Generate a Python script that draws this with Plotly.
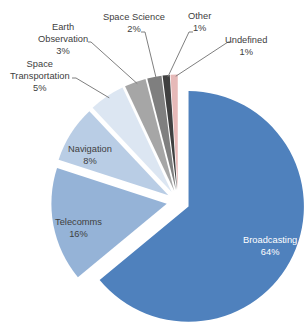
import math
import plotly.graph_objects as go

# ---- data ----
categories = ["Broadcasting", "Telecomms", "Navigation", "Space Transportation",
              "Earth Observation", "Space Science", "Other", "Undefined"]
values = [64, 16, 8, 5, 3, 2, 1, 1]
label_lines = ["Broadcasting", "Telecomms", "Navigation", "Space<br>Transportation",
               "Earth<br>Observation", "Space Science", "Other", "Undefined"]

# ---- style ----
colors = ["#4F81BD", "#95B3D7", "#B9CDE5", "#DCE6F2",
          "#A6A6A6", "#7F7F7F", "#404040", "#E6B9B8"]
W, H = 305, 330
PULL = 0.10
CX, CY = 179.7, 201.5           # pie centre (px)
half = H - CY                   # half box height with domain y0 = 0
dom_y = [0.0, 2 * half / H]
dom_x = [(CX - half) / W, min(1.0, (CX + half) / W)]
R = min(half, (dom_x[1] * W - CX)) / (1 + PULL)

TEXT = "#404040"
FONT = "Liberation Sans"
FS = 9.3

fig = go.Figure(go.Pie(
    labels=categories, values=values, sort=False, direction="clockwise",
    rotation=0, pull=[PULL] * len(values),
    marker=dict(colors=colors, line=dict(width=0)),
    textinfo="none", hoverinfo="label+percent", showlegend=False,
    domain=dict(x=dom_x, y=dom_y),
))

total = sum(values)
def arc_point(i):
    """px point on the outer arc at the mid-angle of slice i, with pull offset"""
    start = sum(values[:i]) / total
    mid = (start + values[i] / total / 2) * 2 * math.pi
    dx, dy = math.sin(mid), -math.cos(mid)
    return CX + (PULL + 1.0) * R * dx, CY + (PULL + 1.0) * R * dy

def paper(px, py):
    return px / W, 1 - py / H

# label centres (px)
label_pos = [(270, 245.5), (78, 227.5), (89.5, 155.3), (40.5, 76.2),
             (63, 39.5), (134, 23), (199, 21.5), (246, 45.5)]
label_col = ["white", TEXT, TEXT, TEXT, TEXT, TEXT, TEXT, TEXT]
# leader-line start points for outside labels (px)
leader = {3: [(72, 78), (76, 78)], 4: [(88, 42), (91, 42)],
          5: [(141, 32), (145, 32)], 6: [(193, 32), (189, 32)],
          7: [(232, 42), (228, 42)]}

annotations, shapes = [], []
for i in range(len(values)):
    x, y = paper(*label_pos[i])
    annotations.append(dict(x=x, y=y, xref="paper", yref="paper", showarrow=False,
                            xanchor="center", yanchor="middle",
                            text=f"{label_lines[i]}<br>{values[i]}%",
                            font=dict(family=FONT, size=FS, color=label_col[i])))
    if i in leader:
        pts = leader[i] + [arc_point(i)]
        for (x0, y0), (x1, y1) in zip(pts[:-1], pts[1:]):
            a0, b0 = paper(x0, y0)
            a1, b1 = paper(x1, y1)
            shapes.append(dict(type="line", xref="paper", yref="paper",
                               x0=a0, y0=b0, x1=a1, y1=b1,
                               line=dict(color="#7F7F7F", width=1)))

fig.update_layout(
    width=W, height=H, margin=dict(l=0, r=0, t=0, b=0),
    paper_bgcolor="white", plot_bgcolor="white",
    annotations=annotations, shapes=shapes,
)
fig.write_html(
    "out.html",
    config={"displayModeBar": False},
    post_script="document.body.style.margin='0';"
                "document.body.style.overflow='hidden';"
                "document.documentElement.style.overflow='hidden';",
)
